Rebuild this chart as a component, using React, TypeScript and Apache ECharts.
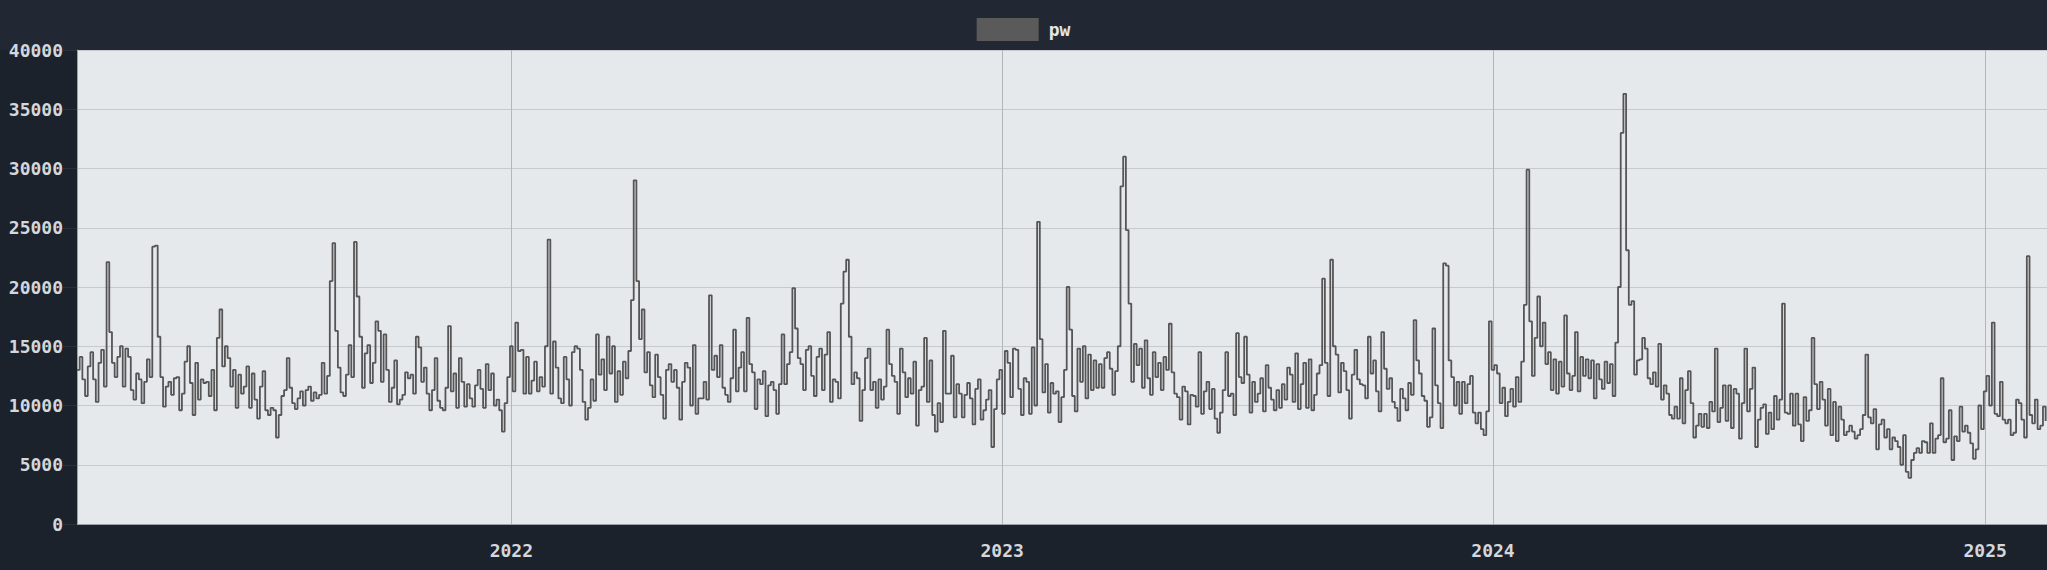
import React, { useEffect, useRef } from 'react';
import * as echarts from 'echarts';

// first sample date and spacing between samples (days)
const START_DATE = Date.UTC(2021, 1, 12);
const END_DATE = Date.UTC(2025, 1, 16);
const STEP_DAYS = 2;
const SERIES_NAME = 'pw';

// values, in chronological order
const seg2021a = [
  13000, 14100, 12200, 10800, 13300, 14500, 12200, 10300, 13600, 14700,
  11600, 22100, 16200, 13600, 12400, 14100, 15000, 11600, 14800, 14100,
  11300, 10500, 12700, 12200, 10200, 12000, 13900, 12400, 23400, 23500,
  15800, 12400, 9900, 11600, 12000, 10900, 12300, 12400, 9600, 11000,
  13700, 15000, 11900, 9200, 13600, 10500, 12200, 11900, 12000, 10800,
  13000, 9600, 15700, 18100, 13300, 15000, 14000, 11600, 13000, 9800,
  12600, 11000, 11600, 13300, 9800, 12700, 10500, 8900, 11600, 12900,
  9600, 9200,
];
const seg2021b = [
  9800, 9600, 7300, 9200, 10800, 11300, 14000, 11500, 10200, 9700,
  10600, 11200, 10000, 11300, 11600, 10400, 11100, 10600, 10900, 13600,
  11000, 12500, 20500, 23700, 16300, 13200, 11100, 10800, 12600, 15100,
  12400, 23800, 19200, 15800, 11500, 14400, 15100, 11900, 13600, 17100,
  16300, 12000, 16000, 13000, 10300, 11500, 13800, 10100, 10500, 10900,
  12800, 12300, 12600, 11000, 15800, 14900, 12000, 13200, 11000, 9600,
  11300, 14000, 10400, 9800, 9600, 11500, 16700, 11200, 12700, 9800,
  14000, 12000, 9900, 11800,
];
const seg2022a = [
  10600, 9900, 11700, 13000, 11400, 9800, 13500, 11300, 12700, 10000,
  10500, 9600, 7800, 10200, 12400, 15000, 11200, 17000, 14600, 14700,
  11000, 14100, 11000, 12100, 13700, 11200, 12400, 11600, 15000, 24000,
  11000, 15400, 13200, 10600, 10200, 14100, 12200, 10000, 14500, 15000,
  14800, 13000, 10300, 8800, 9800, 12200, 10400, 16000, 12600, 13900,
  11300, 15800, 12700, 15000, 10300, 12900, 10900, 13700, 12300, 14600,
  18900, 29000, 20500, 15600, 18100, 12800, 14500, 11700, 10700, 14300,
  12400, 10900, 8900, 13000, 13500,
];
const seg2022b = [
  12000, 13000, 11500, 8800, 12000, 13600, 13200, 10000, 15100, 9300,
  10600, 10600, 12000, 10500, 19300, 13000, 14200, 12400, 15100, 11500,
  10900, 10300, 12300, 16400, 11200, 13200, 14500, 11200, 17400, 13500,
  12800, 9700, 12200, 11800, 12900, 9100, 11700, 12000, 11300, 9300,
  11800, 16000, 11800, 13500, 14500, 19900, 16500, 14000, 13500, 11300,
  14700, 15000, 12500, 10800, 14100, 14800, 11300, 14300, 16200, 10300,
  12200, 12000, 10600, 18600, 21300, 22300, 15800, 11800, 12800, 12300,
  8700, 11300, 14000, 14800, 11300,
];
const seg2023a = [
  12000, 9800, 12200, 10500, 11600, 16400, 13500, 12500, 12000, 9300,
  14800, 12800, 10700, 12300, 11000, 13700, 8300, 11300, 11600, 15700,
  10300, 13800, 9200, 7800, 10200, 8600, 16300, 11000, 11000, 14200,
  9000, 11800, 11000, 9000, 10900, 11900, 10600, 8400, 11400, 12200,
  8800, 9600, 10500, 11300, 6500, 9700, 12200, 13000, 9300, 14600,
  13600, 10700, 14800, 14700, 11400, 9200, 12300, 12000, 9300, 14900,
  10000, 25500, 15600, 11100, 13500, 9400, 11900, 11000, 11200, 8600,
  10700, 13000, 20000, 16400,
];
const seg2023b = [
  10800, 9500, 14800, 12000, 15000, 10600, 14300, 11300, 13800, 11500,
  13500, 11500, 14000, 14500, 13100, 10900, 12900, 15000, 28500, 31000,
  24800, 18600, 12000, 15200, 13400, 14800, 11500, 15500, 12300, 10900,
  14500, 12400, 13600, 11300, 14100, 13000, 16900, 12800, 11000, 10700,
  8800, 11600, 11200, 8400, 10900, 10800, 9900, 14500, 9300, 11200,
  12000, 9700, 11400, 8900, 7700, 9400, 11300, 14500, 10800, 11000,
  9200, 16100, 12400, 11900, 15800, 12600, 9400, 12000, 10300, 11000,
  12300, 9500, 13400, 11500,
];
const seg2023c = [
  10500, 9600, 11300, 9800, 11800, 10500, 13200, 12600, 10300, 14400,
  9700, 11800, 13600, 9800, 13900, 9600, 10900, 12700, 13400, 20700,
  13600, 10800, 22300, 15000, 14300, 11100, 13600, 12900, 11300, 8900,
  12600, 14700, 12200, 11800, 11700, 10600, 15800, 12700, 13800, 11200,
  9500, 16200, 13100, 11400, 12300, 10300, 9800, 8700, 11400, 10600,
  9600, 11900, 10900, 17200, 13800, 12700, 10800, 10400, 8200, 9000,
  16500, 11700, 10200, 8100, 22000, 21800, 13800, 12400, 10000, 12000,
  9300, 12000, 10200, 11800, 12500,
];
const seg2024a = [
  9400, 8500, 9400, 8000, 7500, 9500, 17100, 13000, 13400, 12700,
  10200, 11500, 9100, 10300, 11400, 9900, 12400, 10300, 13700, 18500,
  29900, 17100, 12500, 15700, 19200, 15000, 17000, 13500, 14500, 11300,
  13900, 11000, 13700, 11600, 17600, 12700, 11300, 12500, 16200, 11200,
  14100, 12500, 13900, 12300, 13800, 10600, 13500, 12200, 11400, 13700,
  11900, 13500, 10800, 15300, 20000, 33000, 36300, 23100, 18500, 18800,
  12600, 13800, 13900, 15700, 14800, 12300, 11800, 12800, 11600, 15200,
  10500, 11700, 11000, 9200,
];
const seg2024b = [
  8900, 9900, 8900, 12300, 8500, 11300, 12900, 10200, 7300, 8300,
  9300, 8200, 9300, 8100, 10300, 9500, 14800, 8600, 9800, 11700,
  8700, 11700, 8100, 11400, 11000, 7200, 10200, 14800, 9500, 11400,
  13200, 6500, 8800, 9800, 10100, 7600, 9400, 8000, 10800, 8800,
  10500, 18600, 9400, 9300, 11000, 8300, 11000, 8400, 7000, 10700,
  8700, 9600, 15700, 11800, 9700, 12000, 10500, 8300, 11400, 7500,
  10300, 7000, 9900, 8800, 7500, 7800, 8300, 7800, 7200, 7500,
  8000, 9200, 14300, 9000,
];
const seg2024c = [
  8500, 9700, 6300, 8400, 8800, 7300, 8000, 6300, 7300, 7000,
  6500, 5000, 7500, 4400, 3900, 5400, 6000, 6400, 6000, 7000,
  6900, 6000, 8500, 6000, 7200, 7500, 12300, 6900, 7200, 9600,
  5400, 7400, 7000, 9900, 7800, 8300, 7700, 6800, 5500, 6300,
  10000, 8000, 11200, 12500, 10000, 17000, 9300, 9100, 12000, 8800,
  8500, 8800, 7500, 7700, 10500, 10200, 8800, 7300, 22600, 9200,
  8500, 10500, 8000, 8300, 9900, 8700,
];

const pwValues = [
  ...seg2021a, ...seg2021b, ...seg2022a, ...seg2022b, ...seg2023a,
  ...seg2023b, ...seg2023c, ...seg2024a, ...seg2024b, ...seg2024c,
];

const Y_MIN = 0;
const Y_MAX = 40000;
const Y_INTERVAL = 5000;

const FONT = '"DejaVu Sans Mono", monospace';
const DAY = 86400000;

export default function App() {
  const ref = useRef<HTMLDivElement>(null);

  useEffect(() => {
    if (!ref.current) return;
    const chart = echarts.init(ref.current, null, { renderer: 'svg' });
    const data = pwValues.map((v, i) => [START_DATE + i * STEP_DAYS * DAY, v]);
    chart.setOption({
      animation: false,
      backgroundColor: '#1c222b',
      graphic: [
        {
          type: 'rect',
          left: 0,
          top: 0,
          z: -10,
          silent: true,
          shape: { width: 2047, height: 50 },
          style: { fill: '#212833' },
        },
      ],
      legend: {
        top: 13,
        left: 'center',
        icon: 'rect',
        itemWidth: 62,
        itemHeight: 23,
        data: [SERIES_NAME],
        textStyle: {
          color: '#e4e4e4',
          fontSize: 18,
          fontWeight: 'bold',
          fontFamily: FONT,
          padding: [0, 0, 0, 5],
        },
      },
      grid: {
        left: 77,
        right: 0,
        top: 50,
        bottom: 46,
        containLabel: false,
        outerBoundsMode: 'none',
        show: true,
        backgroundColor: '#e6e9ec',
        borderWidth: 0,
      },
      xAxis: {
        type: 'time',
        min: START_DATE,
        max: END_DATE,
        minInterval: 365 * DAY,
        maxInterval: 366 * DAY,
        axisLine: { show: true, lineStyle: { color: '#9ca1a6', width: 1 } },
        axisTick: { show: false },
        splitLine: { show: true, lineStyle: { color: '#b3b7bb', width: 1 } },
        axisLabel: {
          formatter: '{yyyy}',
          color: '#d4d7db',
          fontSize: 18,
          fontWeight: 'bold',
          fontFamily: FONT,
          margin: 17,
          showMinLabel: false,
          showMaxLabel: false,
        },
      },
      yAxis: {
        type: 'value',
        min: Y_MIN,
        max: Y_MAX,
        interval: Y_INTERVAL,
        axisLine: { show: true, lineStyle: { color: '#9ca1a6', width: 1 } },
        axisTick: { show: true, length: 14, lineStyle: { color: '#2a313b' } },
        splitLine: { show: true, lineStyle: { color: '#c7cacd', width: 1 } },
        axisLabel: {
          color: '#d4d7db',
          fontSize: 18,
          fontWeight: 'bold',
          fontFamily: FONT,
          margin: 14,
          formatter: (v: number) => String(v),
        },
      },
      series: [
        {
          name: SERIES_NAME,
          type: 'line',
          step: 'end',
          data,
          showSymbol: false,
          lineStyle: { color: '#555555', width: 1.8 },
          itemStyle: { color: '#5a5a5a' },
        },
      ],
    });
    return () => chart.dispose();
  }, []);

  return (
    <div
      ref={ref}
      style={{ position: 'fixed', left: 0, top: 0, width: 2047, height: 570 }}
    />
  );
}
